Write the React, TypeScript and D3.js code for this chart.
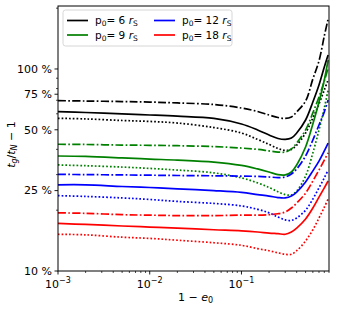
import React from "react";
import * as d3 from "d3";

// 1 - e0 values shared by every curve
const oneMinusE = [0.001, 0.002, 0.005, 0.01, 0.02, 0.05, 0.1, 0.15, 0.2, 0.25, 0.3, 0.35, 0.4, 0.5, 0.6, 0.7, 0.8, 0.88];

// t_g/t_N - 1 in percent, three line styles per p0
const p6Solid = [61.5, 60.9, 59.9, 59.2, 58.4, 56.9, 53.4, 49.9, 47.1, 45.3, 44.8, 45.5, 48.2, 55.9, 68.6, 83.3, 102.3, 117.3];
const p6DashDot = [69.7, 69.4, 69.0, 68.6, 67.9, 66.7, 64.1, 61.6, 59.2, 57.5, 56.9, 57.9, 61.3, 69.4, 89.2, 109.6, 145.7, 176.8];
const p6Dotted = [57.0, 56.6, 55.6, 55.0, 54.0, 51.3, 48.2, 44.8, 42.3, 40.4, 39.5, 40.0, 42.0, 48.2, 57.2, 67.1, 78.7, 88.2];

const p9Solid = [37.1, 36.9, 36.3, 35.8, 35.4, 34.6, 33.3, 32.0, 30.9, 30.0, 29.9, 30.9, 33.5, 41.1, 53.4, 68.6, 88.2, 110.8];
const p9DashDot = [42.4, 42.3, 42.0, 41.9, 41.7, 41.3, 40.6, 40.0, 39.3, 38.8, 38.8, 40.2, 43.0, 49.9, 60.6, 72.7, 87.2, 101.2];
const p9Dotted = [33.5, 33.2, 32.7, 32.2, 31.6, 30.6, 28.9, 27.3, 25.9, 24.7, 23.9, 23.8, 24.9, 29.5, 38.4, 49.9, 64.1, 78.7];

const p12Solid = [26.7, 26.7, 26.2, 25.9, 25.5, 25.0, 24.5, 23.9, 23.5, 23.1, 23.0, 23.5, 24.6, 27.6, 31.3, 35.0, 39.3, 43.0];
const p12DashDot = [30.1, 30.0, 29.9, 29.8, 29.7, 29.6, 29.5, 29.4, 29.2, 29.0, 29.2, 30.2, 32.0, 37.1, 44.5, 52.8, 61.3, 70.2];
const p12Dotted = [23.6, 23.4, 23.0, 22.6, 22.1, 21.6, 21.0, 20.2, 19.4, 18.5, 17.9, 17.8, 18.3, 20.0, 22.7, 25.8, 28.9, 31.6];

const p18Solid = [17.2, 17.0, 16.7, 16.5, 16.3, 16.0, 15.8, 15.6, 15.4, 15.3, 15.2, 15.6, 16.3, 18.1, 20.5, 23.2, 25.8, 27.9];
const p18DashDot = [19.4, 19.3, 19.0, 18.9, 18.8, 18.8, 18.9, 18.9, 19.0, 19.2, 19.6, 20.5, 21.7, 24.3, 27.9, 31.6, 35.4, 38.4];
const p18Dotted = [15.2, 15.1, 14.7, 14.5, 14.2, 13.8, 13.4, 12.9, 12.6, 12.3, 12.1, 12.1, 12.6, 14.1, 16.0, 18.3, 20.7, 22.7];

const p0Labels = ["6", "9", "12", "18"];
const colors = ["#000000", "#008000", "#0000ff", "#ff0000"];
const seriesByP0 = [
  [p6Solid, p6DashDot, p6Dotted],
  [p9Solid, p9DashDot, p9Dotted],
  [p12Solid, p12DashDot, p12Dotted],
  [p18Solid, p18DashDot, p18Dotted],
];

const yTicks = [10, 25, 50, 75, 100];
const yMinor = [20, 30, 40, 60, 70, 80, 90, 200];
const xTicks = [1e-3, 1e-2, 1e-1];
const xTickExp = ["\u22123", "\u22122", "\u22121"];

const W = 337, H = 310;
const left = 58, right = 329, top = 6, bottom = 271;
const font = "DejaVu Sans, sans-serif";
const lw = 1.7;
const dashes = [null, "8,2.3,1.7,2.3", "1.7,2"];

export default function App() {
  const x = d3.scaleLog().domain([1e-3, 0.9]).range([left, right]);
  const y = d3.scaleLog().domain([10, 205]).range([bottom, top]);

  const line = d3
    .line<number>()
    .x((d, i) => x(oneMinusE[i]))
    .y((d) => y(d))
    .curve(d3.curveCatmullRom.alpha(0.5));

  // minor x ticks 2..9 per decade
  const xMinor: number[] = [];
  [1e-3, 1e-2, 1e-1].forEach((dec) => {
    for (let k = 2; k <= 9; k++) {
      const v = dec * k;
      if (v <= 0.9) xMinor.push(v);
    }
  });

  return (
    <svg width={W} height={H} style={{ position: "absolute", left: 0, top: 0, background: "#fff" }} fontFamily={font}>
      <defs>
        <clipPath id="plot">
          <rect x={left} y={top} width={right - left} height={bottom - top} />
        </clipPath>
      </defs>

      {/* curves */}
      <g clipPath="url(#plot)">
        {seriesByP0.map((group, gi) =>
          group.map((vals, si) => (
            <path
              key={gi + "-" + si}
              d={line(vals) || ""}
              fill="none"
              stroke={colors[gi]}
              strokeWidth={lw}
              strokeDasharray={dashes[si] || undefined}
            />
          ))
        )}
      </g>

      {/* frame */}
      <rect x={left} y={top} width={right - left} height={bottom - top} fill="none" stroke="#000" strokeWidth={1} />

      {/* y ticks */}
      {yMinor.map((t) => (
        <line key={"ym" + t} x1={left} x2={left - 2} y1={y(t)} y2={y(t)} stroke="#000" strokeWidth={0.7} />
      ))}
      {yTicks.map((t) => (
        <g key={"y" + t}>
          <line x1={left} x2={left - 3.5} y1={y(t)} y2={y(t)} stroke="#000" strokeWidth={0.9} />
          <text x={left - 6} y={y(t)} dy="0.35em" textAnchor="end" fontSize={11}>
            {t} %
          </text>
        </g>
      ))}

      {/* x ticks */}
      {xMinor.map((t) => (
        <line key={"xm" + t} x1={x(t)} x2={x(t)} y1={bottom} y2={bottom + 2} stroke="#000" strokeWidth={0.7} />
      ))}
      {xTicks.map((t, i) => (
        <g key={"x" + t}>
          <line x1={x(t)} x2={x(t)} y1={bottom} y2={bottom + 3.5} stroke="#000" strokeWidth={0.9} />
          <text x={x(t)} y={288} textAnchor="middle" fontSize={11}>
            10
            <tspan fontSize={8} dy={-5}>{xTickExp[i]}</tspan>
          </text>
        </g>
      ))}

      {/* axis labels */}
      <text x={(left + right) / 2 + 2} y={301} textAnchor="middle" fontSize={11}>
        1 {"\u2212"} <tspan fontStyle="italic">e</tspan>
        <tspan fontSize={8} dy={2}>0</tspan>
      </text>
      <text transform={`translate(15,${(top + bottom) / 2 + 6}) rotate(-90)`} textAnchor="middle" fontSize={11}>
        <tspan fontStyle="italic">t</tspan>
        <tspan fontSize={8} dy={2} fontStyle="italic">g</tspan>
        <tspan dy={-2}>/</tspan>
        <tspan fontStyle="italic">t</tspan>
        <tspan fontSize={8} dy={2} fontStyle="italic">N</tspan>
        <tspan dy={-2}> {"\u2212"} 1</tspan>
      </text>

      {/* legend */}
      <rect x={63} y={10} width={169} height={36} rx={2.5} fill="#fff" fillOpacity={0.8} stroke="#cccccc" strokeWidth={0.8} />
      {p0Labels.map((lab, i) => {
        const col = Math.floor(i / 2);
        const row = i % 2;
        const lx = col === 0 ? 67 : 154;
        const ly = row === 0 ? 20.5 : 35;
        return (
          <g key={"leg" + i}>
            <line x1={lx} x2={lx + 21} y1={ly} y2={ly} stroke={colors[i]} strokeWidth={lw} />
            <text x={lx + 28} y={ly} dy="0.35em" fontSize={10.5}>
              p<tspan fontSize={7.5} dy={2}>0</tspan>
              <tspan dy={-2}>= {lab} </tspan>
              <tspan fontStyle="italic">r</tspan>
              <tspan fontSize={7.5} dy={2}>S</tspan>
            </text>
          </g>
        );
      })}
    </svg>
  );
}
